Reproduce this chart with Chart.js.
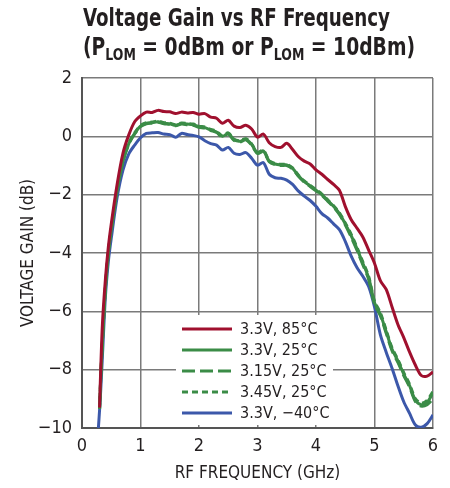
<!DOCTYPE html>
<html><head><meta charset="utf-8">
<script src="https://cdn.jsdelivr.net/npm/chart.js@4"></script>
<style>
html,body{margin:0;padding:0;background:#fff;}
#wrap{position:relative;width:450px;height:488px;}
.tl{position:absolute;left:83px;font-family:"DejaVu Sans Condensed","DejaVu Sans",sans-serif;font-weight:bold;font-size:24px;line-height:28px;color:#231f20;white-space:nowrap;transform-origin:0 0;}
.tl sub{font-size:16px;vertical-align:-5px;line-height:0;}
canvas{position:absolute;left:0;top:0;}
</style></head>
<body><div id="wrap">
<canvas id="c" width="450" height="488"></canvas>
<div class="tl" id="t1" style="top:4px">Voltage Gain vs RF Frequency</div>
<div class="tl" id="t2" style="top:33px">(P<sub>LOM</sub> = 0dBm or P<sub>LOM</sub> = 10dBm)</div>
</div>
<script>
const freq = [0.28,0.3,0.32,0.35,0.4,0.45,0.5,0.6,0.7,0.8,0.9,1.0,1.1,1.2,1.3,1.4,1.5,1.6,1.7,1.8,1.9,2.0,2.1,2.2,2.3,2.4,2.5,2.6,2.7,2.8,2.9,3.0,3.1,3.2,3.3,3.4,3.5,3.6,3.7,3.8,3.9,4.0,4.1,4.2,4.3,4.4,4.5,4.6,4.7,4.8,4.9,5.0,5.1,5.2,5.3,5.4,5.5,5.6,5.7,5.8,5.9,6.0];
const red85 = [null,-9.3,-8.0,-6.4,-4.9,-3.8,-3.0,-1.65,-0.58,0.05,0.5,0.7,0.83,0.82,0.89,0.85,0.84,0.78,0.83,0.8,0.82,0.76,0.78,0.66,0.62,0.45,0.55,0.35,0.3,0.38,0.25,-0.03,0.08,-0.22,-0.35,-0.38,-0.24,-0.45,-0.7,-0.85,-0.95,-1.15,-1.3,-1.48,-1.65,-1.85,-2.4,-2.85,-3.15,-3.45,-3.9,-4.35,-4.95,-5.25,-5.85,-6.45,-6.9,-7.4,-7.85,-8.2,-8.22,-8.08];
const green33 = [null,-9.35,-8.3,-7.0,-5.2,-4.0,-3.2,-1.85,-0.85,-0.25,0.1,0.35,0.45,0.47,0.5,0.45,0.43,0.38,0.44,0.42,0.4,0.33,0.3,0.22,0.15,0.0,0.1,-0.12,-0.17,-0.1,-0.28,-0.57,-0.5,-0.85,-0.95,-0.98,-0.98,-1.1,-1.35,-1.55,-1.7,-1.85,-2.0,-2.2,-2.4,-2.65,-3.0,-3.4,-3.85,-4.35,-4.85,-5.7,-6.1,-6.7,-7.3,-7.7,-8.15,-8.55,-9.05,-9.2,-9.12,-8.8];
const green315 = [null,-9.35,-8.3,-7.0,-5.2,-4.0,-3.2,-1.85,-0.87,-0.27,0.08,0.33,0.43,0.45,0.48,0.43,0.41,0.36,0.42,0.4,0.38,0.31,0.28,0.2,0.13,-0.02,0.08,-0.14,-0.19,-0.12,-0.3,-0.59,-0.52,-0.87,-0.97,-1.0,-1.0,-1.12,-1.37,-1.57,-1.72,-1.87,-2.02,-2.22,-2.42,-2.68,-3.03,-3.45,-3.9,-4.4,-4.9,-5.75,-6.15,-6.75,-7.35,-7.75,-8.2,-8.6,-9.1,-9.25,-9.2,-9.0];
const green345 = [null,-9.35,-8.3,-7.0,-5.2,-4.0,-3.2,-1.85,-0.83,-0.23,0.12,0.37,0.47,0.49,0.52,0.47,0.45,0.4,0.46,0.44,0.42,0.35,0.32,0.24,0.17,0.02,0.12,-0.1,-0.15,-0.08,-0.26,-0.55,-0.48,-0.83,-0.93,-0.96,-0.96,-1.08,-1.33,-1.53,-1.68,-1.83,-1.98,-2.18,-2.38,-2.62,-2.97,-3.35,-3.8,-4.3,-4.8,-5.65,-6.05,-6.65,-7.25,-7.65,-8.1,-8.5,-9.0,-9.15,-9.05,-8.75];
const blue40 = [-10,-9.4,-8.7,-7.5,-5.5,-4.3,-3.5,-2.1,-1.16,-0.6,-0.3,-0.05,0.1,0.12,0.13,0.08,0.06,-0.03,0.1,0.06,0.03,-0.02,-0.15,-0.25,-0.3,-0.47,-0.38,-0.58,-0.62,-0.56,-0.75,-0.99,-0.9,-1.3,-1.42,-1.44,-1.5,-1.65,-1.88,-2.05,-2.2,-2.4,-2.65,-2.8,-3.0,-3.2,-3.6,-4.1,-4.5,-4.8,-5.15,-5.85,-6.8,-7.4,-7.95,-8.55,-9.1,-9.5,-9.9,-9.97,-9.85,-9.55];
const seriesLabels = ["3.3V, 85°C","3.3V, 25°C","3.15V, 25°C","3.45V, 25°C","3.3V, \u221240°C"];
const xTicks = [0,1,2,3,4,5,6];
const yTicks = [-10,-8,-6,-4,-2,0,2];

// fit title lines to reference widths
[['t1',307],['t2',332]].forEach(([id,w])=>{
  const el=document.getElementById(id);
  const cw=el.getBoundingClientRect().width;
  el.style.transform='scaleX('+(w/cw)+')';
});

const RED="#a0102e", GREEN="#3b8c47", BLUE="#3c58aa";
const FONT='"DejaVu Sans Condensed","DejaVu Sans",sans-serif';
const pts = arr => freq.map((f,i)=>({x:f,y:arr[i]}));
const ds = (label,arr,color,dash)=>({label,data:pts(arr),borderColor:color,backgroundColor:color,borderWidth:3,borderDash:dash,pointRadius:0,tension:0.3,spanGaps:false,fill:false});

const legendPlugin = {
  id:'insideLegend',
  beforeDatasetsDraw(chart){
    const ctx=chart.ctx;
    ctx.save();
    ctx.fillStyle='#fff';
    ctx.fillRect(176,315,157,110);
    chart.data.datasets.forEach((d,i)=>{
      const yy=329+i*21;
      ctx.beginPath();
      ctx.strokeStyle=d.borderColor; ctx.lineWidth=3;
      ctx.setLineDash(d.borderDash||[]);
      ctx.moveTo(182,yy); ctx.lineTo(232,yy); ctx.stroke();
      ctx.setLineDash([]);
      ctx.fillStyle='#231f20';
      ctx.font='16px '+FONT;
      ctx.textBaseline='middle';
      ctx.fillText(d.label,240,yy+1);
    });
    ctx.restore();
  }
};

new Chart(document.getElementById('c'),{
  type:'line',
  data:{datasets:[
    ds(seriesLabels[0],red85,RED,[]),
    ds(seriesLabels[1],green33,GREEN,[]),
    ds(seriesLabels[2],green315,GREEN,[13,5]),
    ds(seriesLabels[3],green345,GREEN,[6,4]),
    ds(seriesLabels[4],blue40,BLUE,[])
  ]},
  options:{
    responsive:false,animation:false,
    layout:{padding:{left:14,right:17,top:78,bottom:0}},
    plugins:{legend:{display:false},title:{display:false},tooltip:{enabled:false}},
    scales:{
      x:{type:'linear',min:0,max:6,
        afterBuildTicks:s=>{s.ticks=xTicks.map(v=>({value:v}));},
        afterFit:s=>{s.height=60;},
        grid:{color:'#7a7a7a',lineWidth:1.5,drawTicks:false},
        border:{color:'#555',width:2},
        ticks:{padding:8,color:'#231f20',font:{family:FONT,size:18},callback:v=>String(v)},
        title:{display:true,text:'RF FREQUENCY (GHz)',color:'#231f20',font:{family:FONT,size:17},padding:{top:1}}
      },
      y:{min:-10,max:2,
        afterBuildTicks:s=>{s.ticks=yTicks.map(v=>({value:v}));},
        afterFit:s=>{s.width=68;},
        grid:{color:'#7a7a7a',lineWidth:1.5,drawTicks:false},
        border:{color:'#555',width:2},
        ticks:{padding:10,color:'#231f20',font:{family:FONT,size:18},callback:v=>String(v).replace('-','\u2212')},
        title:{display:true,text:'VOLTAGE GAIN (dB)',color:'#231f20',font:{family:FONT,size:17},padding:{bottom:4}}
      }
    }
  },
  plugins:[legendPlugin]
});
</script>
</body></html>
